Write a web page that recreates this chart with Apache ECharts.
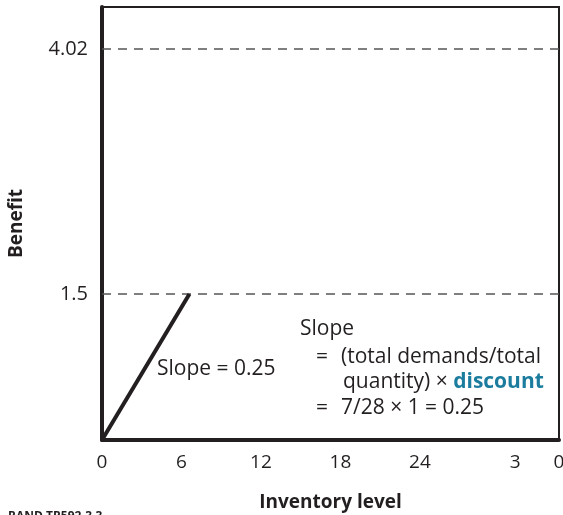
<!DOCTYPE html>
<html>
<head>
<meta charset="utf-8">
<script src="https://cdn.jsdelivr.net/npm/echarts@6/dist/echarts.min.js"></script>
<style>html,body{margin:0;padding:0;background:#fff}#c{width:563px;height:515px}</style>
</head>
<body>
<div id="c"></div>
<script>
// Data
const benefitLine = [[0, 0], [6.6, 1.5]];
const referenceLevels = [1.5, 4.02];
const yTickValues = [1.5, 4.02];
const yTickLabels = ['1.5', '4.02'];
const xTickValues = [0, 6, 12, 18, 24, 31.2, 34.5];
const xTickLabels = ['0', '6', '12', '18', '24', '3', '0'];

const FONT = '"Open Sans", "Noto Sans", sans-serif';
const INK = '#231f20';
const TEAL = '#1b7c9e';

function txt(left, top, text, extra) {
  return Object.assign({type: 'text', left: left, top: top,
    style: Object.assign({text: text, fontFamily: FONT, fontSize: 21, fill: INK}, extra || {})});
}

const chart = echarts.init(document.getElementById('c'), null, {renderer: 'canvas'});
chart.setOption({
  animation: false,
  backgroundColor: '#fff',
  grid: {left: 102, right: 4, top: 7, bottom: 75, show: true, borderColor: INK, borderWidth: 2,
         backgroundColor: 'transparent', outerBoundsMode: 'none', containLabel: false},
  xAxis: {
    type: 'value', min: 0, max: 34.5,
    name: 'Inventory level', nameLocation: 'middle', nameGap: 53,
    nameTextStyle: {fontFamily: FONT, fontWeight: 'bold', fontSize: 19, color: INK},
    axisLine: {show: true, lineStyle: {color: INK, width: 4}},
    axisTick: {show: false},
    splitLine: {show: false},
    axisLabel: {
      customValues: xTickValues, margin: 13,
      fontFamily: FONT, fontSize: 19, color: INK,
      formatter: v => { const i = xTickValues.indexOf(v); return i >= 0 ? xTickLabels[i] : ''; }
    }
  },
  yAxis: {
    type: 'value', min: 0, max: 4.45,
    name: 'Benefit', nameLocation: 'middle', nameGap: 76, nameRotate: 90,
    nameTextStyle: {fontFamily: FONT, fontWeight: 'bold', fontSize: 19, color: INK},
    axisLine: {show: true, lineStyle: {color: INK, width: 4}},
    axisTick: {show: false},
    splitLine: {show: false},
    axisLabel: {
      customValues: yTickValues, margin: 14,
      fontFamily: FONT, fontSize: 20, color: INK,
      formatter: v => { const i = yTickValues.indexOf(v); return i >= 0 ? yTickLabels[i] : ''; }
    }
  },
  series: [{
    type: 'line',
    data: benefitLine,
    symbol: 'none',
    lineStyle: {color: INK, width: 4},
    z: 5,
    markLine: {
      silent: true, symbol: 'none', label: {show: false},
      lineStyle: {color: '#555', width: 1.5, type: [9, 7]},
      data: referenceLevels.map(v => ({yAxis: v}))
    }
  }],
  graphic: [
    txt(157, 359, 'Slope = 0.25'),
    txt(300, 319, 'Slope'),
    txt(316, 347, '='),
    txt(341, 347, '(total demands/total'),
    txt(343, 372, 'quantity) × {b|discount}', {rich: {b: {fontFamily: FONT, fontSize: 21, fontWeight: 'bold', fill: TEAL}}}),
    txt(316, 398, '='),
    txt(341, 398, '7/28 × 1 = 0.25'),
    {type: 'text', left: 8, top: 511, style: {text: 'RAND TR592-3.3', fontFamily: FONT, fontSize: 12, fontWeight: 'bold', fill: INK}}
  ]
});
</script>
</body>
</html>
